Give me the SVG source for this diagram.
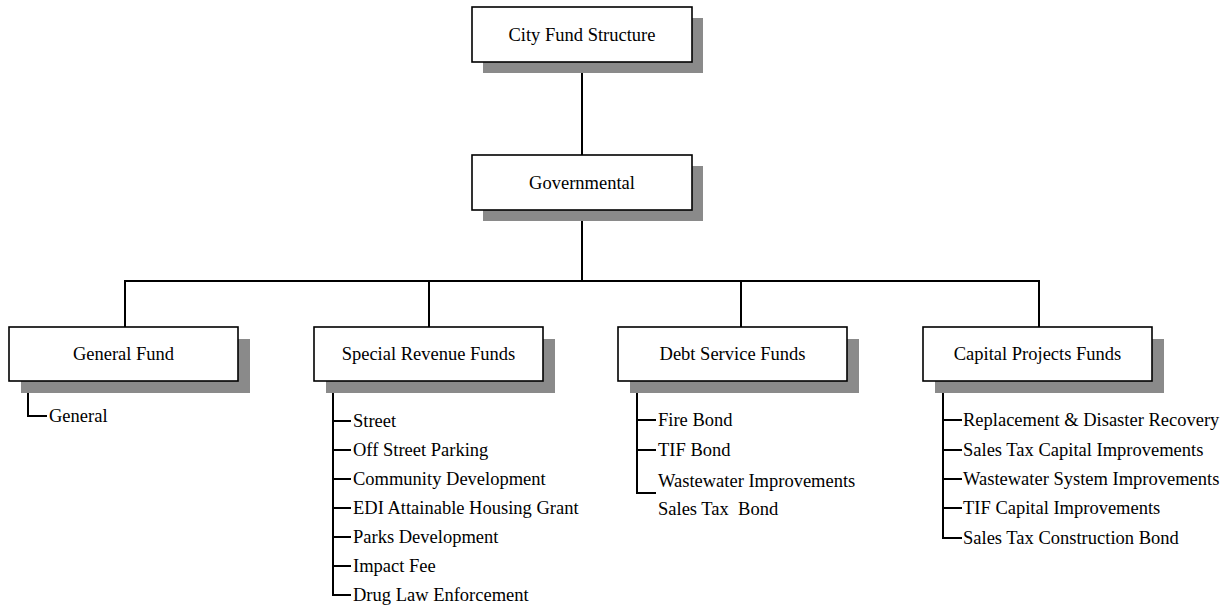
<svg xmlns="http://www.w3.org/2000/svg" width="1228" height="607" viewBox="0 0 1228 607">
  <style>
    .shadow { fill: #8a8a8a; }
    .box { fill: #ffffff; stroke: #000000; stroke-width: 1.6; }
    .label { font-family: "Liberation Serif", "Times New Roman", serif; font-size: 18.5px; fill: #000000; }
    .mid { text-anchor: middle; }
    .wire { fill: none; stroke: #000000; stroke-width: 2; }
  </style>

  <rect x="0" y="0" width="1228" height="607" fill="#ffffff"/>

  <!-- connectors -->
  <g id="connectors">
    <line class="wire" x1="582" y1="62" x2="582" y2="155"/>
    <line class="wire" x1="582" y1="210" x2="582" y2="281"/>
    <line class="wire" x1="124" y1="281" x2="1040" y2="281"/>
    <line class="wire" x1="125" y1="281" x2="125" y2="327"/>
    <line class="wire" x1="429" y1="281" x2="429" y2="327"/>
    <line class="wire" x1="741" y1="281" x2="741" y2="327"/>
    <line class="wire" x1="1039" y1="281" x2="1039" y2="327"/>
    <!-- member brackets -->
    <path class="wire" d="M28 381 V416 H47"/>
    <path class="wire" d="M333 381 V595 H351 M333 421 H351 M333 450 H351 M333 479 H351 M333 508 H351 M333 537 H351 M333 566 H351"/>
    <path class="wire" d="M637 381 V493 H656 M637 420 H656 M637 450 H656"/>
    <path class="wire" d="M943 381 V538 H962 M943 420 H962 M943 450 H962 M943 479 H962 M943 508 H962"/>
  </g>

  <g id="city-fund-structure">
    <rect class="shadow" x="483" y="18" width="220" height="55"/>
    <rect class="box" x="472" y="7" width="220" height="55"/>
    <text class="label mid" x="582" y="41">City Fund Structure</text>
  </g>

  <g id="governmental">
    <rect class="shadow" x="483" y="166" width="220" height="55"/>
    <rect class="box" x="472" y="155" width="220" height="55"/>
    <text class="label mid" x="582" y="189">Governmental</text>
  </g>

  <g id="general-fund">
    <rect class="shadow" x="21" y="339" width="229" height="54"/>
    <rect class="box" x="9" y="327" width="229" height="54"/>
    <text class="label mid" x="123.5" y="360">General Fund</text>
    <text class="label" x="49" y="422">General</text>
  </g>

  <g id="special-revenue-funds">
    <rect class="shadow" x="326" y="339" width="229" height="54"/>
    <rect class="box" x="314" y="327" width="229" height="54"/>
    <text class="label mid" x="428.5" y="360">Special Revenue Funds</text>
    <text class="label" x="353" y="427">Street</text>
    <text class="label" x="353" y="456">Off Street Parking</text>
    <text class="label" x="353" y="485">Community Development</text>
    <text class="label" x="353" y="514">EDI Attainable Housing Grant</text>
    <text class="label" x="353" y="543">Parks Development</text>
    <text class="label" x="353" y="572">Impact Fee</text>
    <text class="label" x="353" y="601">Drug Law Enforcement</text>
  </g>

  <g id="debt-service-funds">
    <rect class="shadow" x="630" y="339" width="229" height="54"/>
    <rect class="box" x="618" y="327" width="229" height="54"/>
    <text class="label mid" x="732.5" y="360">Debt Service Funds</text>
    <text class="label" x="658" y="426">Fire Bond</text>
    <text class="label" x="658" y="456">TIF Bond</text>
    <text class="label" x="658" y="487">Wastewater Improvements</text>
    <text class="label" x="658" y="515" xml:space="preserve">Sales Tax  Bond</text>
  </g>

  <g id="capital-projects-funds">
    <rect class="shadow" x="935" y="339" width="229" height="54"/>
    <rect class="box" x="923" y="327" width="229" height="54"/>
    <text class="label mid" x="1037.5" y="360">Capital Projects Funds</text>
    <text class="label" x="963" y="426">Replacement &amp; Disaster Recovery</text>
    <text class="label" x="963" y="456">Sales Tax Capital Improvements</text>
    <text class="label" x="963" y="485">Wastewater System Improvements</text>
    <text class="label" x="963" y="514">TIF Capital Improvements</text>
    <text class="label" x="963" y="544">Sales Tax Construction Bond</text>
  </g>
</svg>
